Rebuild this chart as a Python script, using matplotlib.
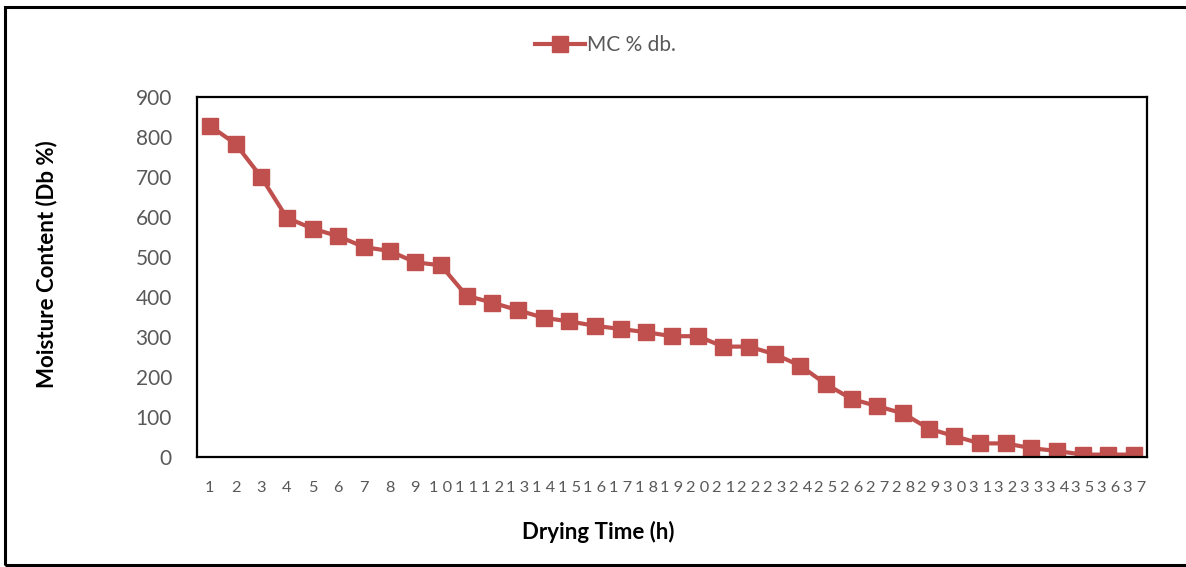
import matplotlib
matplotlib.use("Agg")
import matplotlib.pyplot as plt
from matplotlib.patches import Rectangle

hours = list(range(1, 38))
mc_db = [828, 783, 700, 598, 571, 552, 525, 515, 487, 479,
         403, 386, 367, 348, 339, 328, 320, 312, 302, 302,
         276, 276, 257, 228, 182, 145, 127, 109, 71, 52,
         34, 34, 22, 15, 6, 6, 6]
x_labels = [" ".join(str(h)) for h in hours]
y_ticks = [0, 100, 200, 300, 400, 500, 600, 700, 800, 900]

plt.rcParams['font.family'] = ['Lato', 'DejaVu Sans']

W, H = 1186, 567
fig = plt.figure(figsize=(W / 100, H / 100), dpi=100)
ax = fig.add_axes([197 / W, 1 - 457 / H, (1147 - 197) / W, (457 - 97) / H])

color = '#C0504D'
ax.plot(hours, mc_db, color=color, lw=3, marker='s', markersize=12,
        markerfacecolor=color, markeredgecolor=color, label='MC % db.')

ax.set_xlim(0.5, 37.5)
ax.set_ylim(0, 900)
ax.set_yticks(y_ticks)
ax.set_xticks(hours)
ax.set_xticklabels(x_labels)
ax.tick_params(axis='y', length=0, labelsize=15, labelcolor='#595959', pad=18)
ax.tick_params(axis='x', length=0, labelsize=11.8, labelcolor='#595959', pad=17)
for s in ax.spines.values():
    s.set_linewidth(1.6)
    s.set_color('black')

ax.set_xlabel('Drying Time (h)', fontsize=16, fontweight='bold')
ax.xaxis.set_label_coords((598 - 197) / 950, (457 - 532) / 360)
ax.xaxis.label.set_va('center')
ax.set_ylabel('Moisture Content (Db %)', fontsize=16, fontweight='bold')
ax.yaxis.set_label_coords((47 - 197) / 950, (457 - 264) / 360)
ax.yaxis.label.set_va('center')

leg = fig.legend(loc='center', bbox_to_anchor=(605 / W, 1 - 45 / H), frameon=False,
                 fontsize=15, handlelength=2.4, handletextpad=0.1)
for t in leg.get_texts():
    t.set_color('#595959')

fig.patches.append(Rectangle((5 / W, 1 - 565 / H), 1.2, (565 - 7) / H,
                             transform=fig.transFigure, fill=False,
                             edgecolor='black', lw=2.2))

fig.savefig('out.png', dpi=100)
